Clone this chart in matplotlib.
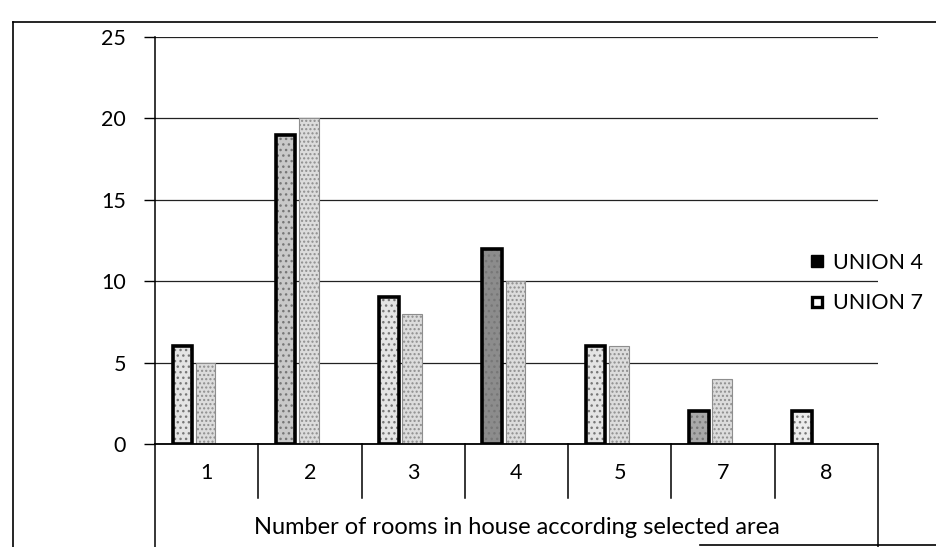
import numpy as np
import matplotlib
matplotlib.use("Agg")
import matplotlib.pyplot as plt
from matplotlib.lines import Line2D
from matplotlib.transforms import blended_transform_factory

plt.rcParams['font.family'] = ['Lato', 'DejaVu Sans']

# Rooms per house, two unions
rooms = ['1', '2', '3', '4', '5', '7', '8']
union4 = [6, 19, 9, 12, 6, 2, 2]
union7 = [5, 20, 8, 10, 6, 4, 0]

# fill shades for the outlined bars
u4_shades = ['#e4e4e4', '#c8c8c8', '#e4e4e4', '#8c8c8c', '#e4e4e4', '#a8a8a8', '#ececec']

fig = plt.figure(figsize=(9.37, 5.47), dpi=100)
ax = fig.add_axes([155 / 937, 1 - 444 / 547, 723 / 937, 407 / 547])

x = np.arange(len(rooms))
w = 0.19

# grid behind the bars
ax.set_axisbelow(True)
ax.yaxis.grid(True, color='#222222', linewidth=0.9)

ax.bar(x - 0.235, union4, width=w, color=u4_shades, edgecolor='#777777',
       hatch='...', linewidth=0, zorder=2)
ax.bar(x - 0.235, union4, width=w, facecolor='none', edgecolor='black',
       linewidth=2.6, zorder=3)
ax.bar(x - 0.01, union7, width=w, color='#dcdcdc', edgecolor='#8e8e8e',
       hatch='....', linewidth=0.8, zorder=2)

ax.set_xlim(-0.5, 6.5)
ax.set_ylim(0, 25)
ax.set_yticks([0, 5, 10, 15, 20, 25])
ax.set_xticks(x)
ax.set_xticklabels(rooms)
ax.tick_params(axis='y', length=8, width=1, pad=13, labelsize=15.5, direction='out')
ax.tick_params(axis='x', length=0, pad=14, labelsize=15.5)

for side in ['top', 'right']:
    ax.spines[side].set_visible(False)
ax.spines['left'].set_linewidth(1.1)
ax.spines['bottom'].set_linewidth(1.3)

# table-style boxes under the category axis
trans = blended_transform_factory(ax.transData, ax.transAxes)
for b in np.arange(0.5, 6.0, 1.0):
    ax.plot([b, b], [0, -0.133], color='black', lw=1.1, transform=trans, clip_on=False)
for b in [-0.5, 6.5]:
    ax.plot([b, b], [0, -0.26], color='black', lw=1.1, transform=trans, clip_on=False)

ax.text(0.5, -0.204, 'Number of rooms in house according selected area',
        transform=ax.transAxes, ha='center', va='center', fontsize=17)

handles = [
    Line2D([], [], marker='s', linestyle='none', markersize=8,
           markerfacecolor='black', markeredgecolor='black'),
    Line2D([], [], marker='s', linestyle='none', markersize=7,
           markerfacecolor='white', markeredgecolor='black', markeredgewidth=2.4),
]
ax.legend(handles, ['UNION 4', 'UNION 7'], loc='upper left',
          bbox_to_anchor=(799 / 937, 1 - 242 / 547), bbox_transform=fig.transFigure,
          frameon=False, borderpad=0, fontsize=15.5, handlelength=0.7,
          handletextpad=0.4, labelspacing=0.95)

# outer chart border
fig.add_artist(Line2D([13 / 937, 1], [1 - 22 / 547, 1 - 22 / 547],
                      transform=fig.transFigure, color='black', lw=1.2))
fig.add_artist(Line2D([13 / 937, 13 / 937], [0, 1 - 22 / 547],
                      transform=fig.transFigure, color='black', lw=1.2))
fig.add_artist(Line2D([700 / 937, 1], [2 / 547, 2 / 547],
                      transform=fig.transFigure, color='black', lw=1.2))

fig.savefig('out.png', dpi=100)
